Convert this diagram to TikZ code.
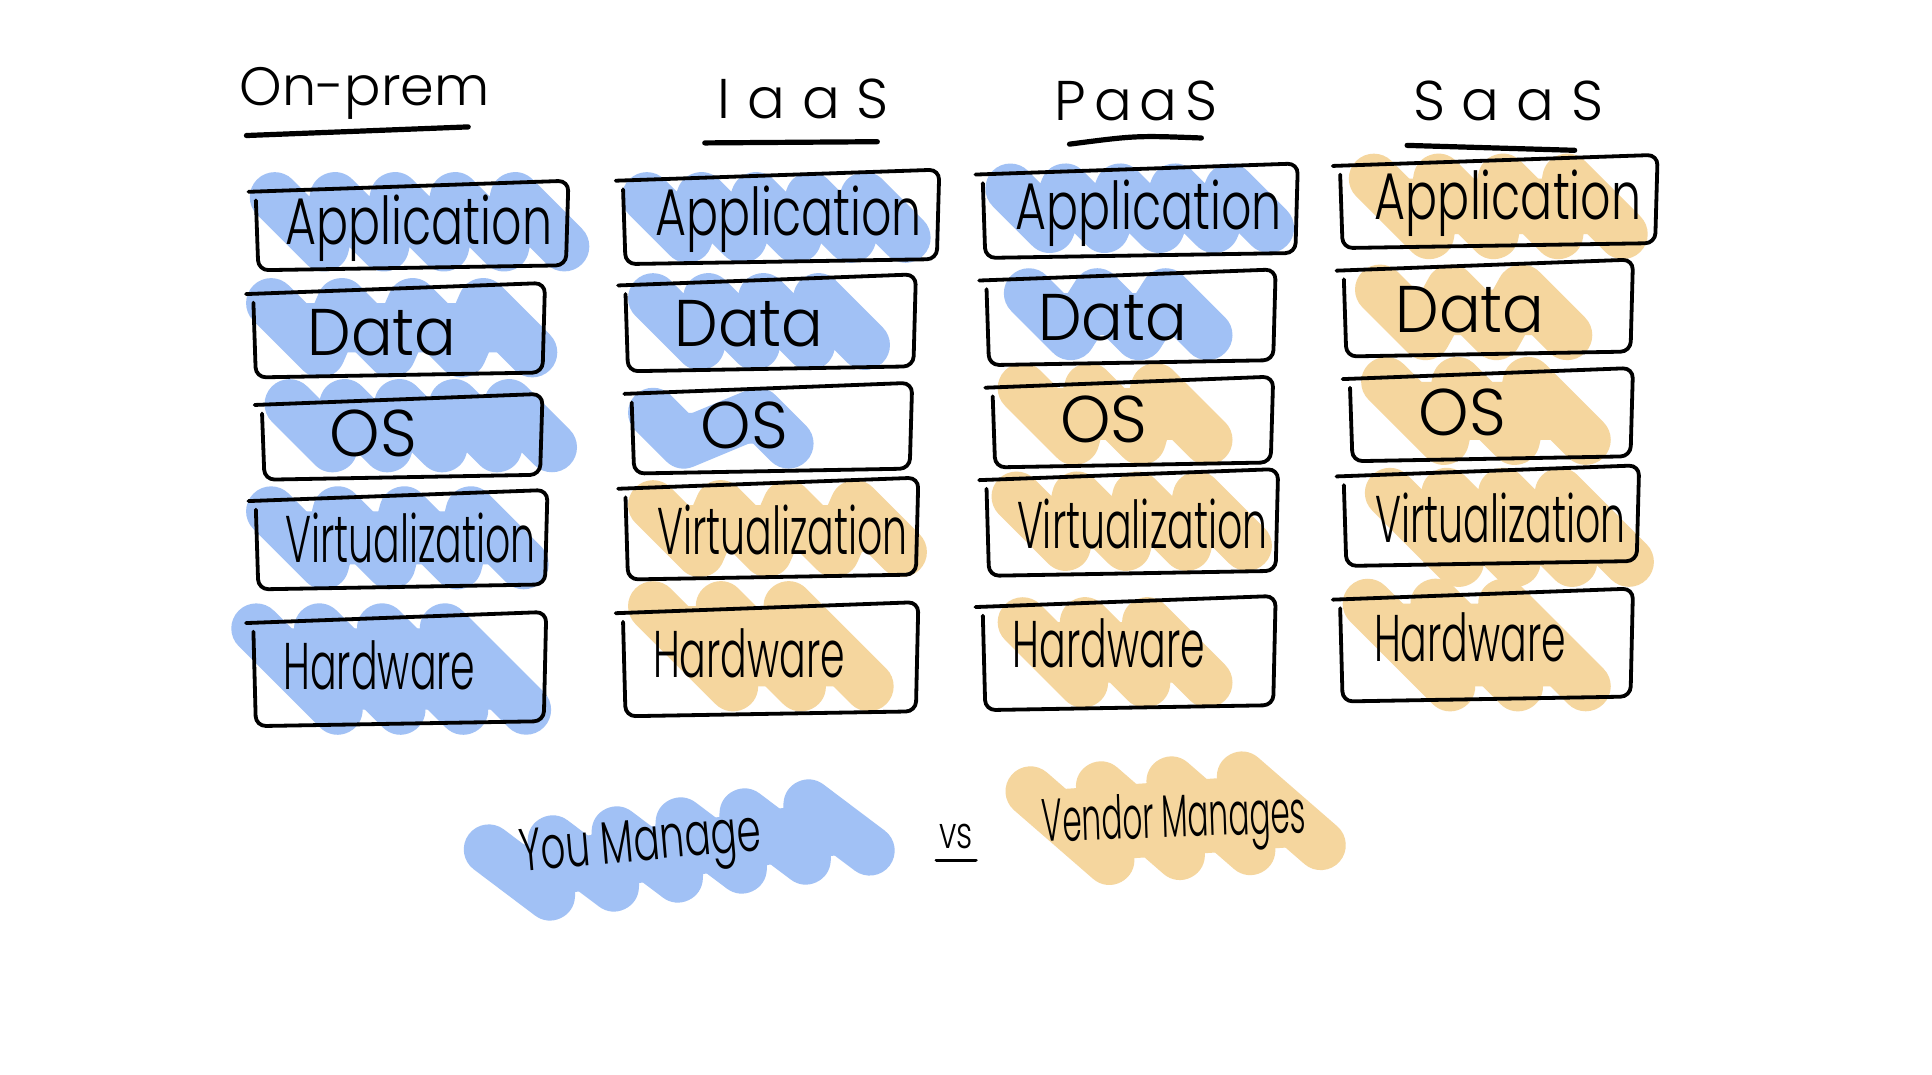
\documentclass[tikz,border=0pt]{standalone}
\usepackage{fontspec}
\usepackage{graphicx}
\usetikzlibrary{calc,fit}
\IfFontExistsTF{Poppins Light}
  {\newfontfamily\handfont[FakeStretch=0.72]{Poppins Light}
   \newfontfamily\titlefont{Poppins Light}
   \newfontfamily\titlespaced[LetterSpace=30]{Poppins Light}
   \newfontfamily\titletight[LetterSpace=14]{Poppins Light}}
  {\newfontfamily\handfont[FakeStretch=0.72]{Poppins}
   \newfontfamily\titlefont{Poppins}
   \newfontfamily\titlespaced[LetterSpace=30]{Poppins}
   \newfontfamily\titletight[LetterSpace=14]{Poppins}}
\definecolor{youblue}{RGB}{161,193,245}
\definecolor{vendorsand}{RGB}{245,214,158}

\tikzset{
  frame/.style={draw=black, line width=1.9pt, rounded corners=5pt, line cap=round, line join=round},
  hl/.style={line width=25pt, line cap=round, line join=round},
  area/.style={inner sep=0pt, draw=none},
  lbl/.style={font=\handfont\fontsize{33}{36}\selectfont, inner sep=0pt, anchor=center},
  legend/.style={font=\handfont\fontsize{30}{34}\selectfont, inner sep=0pt},
  ttl/.style={font=\titlefont\fontsize{27}{32}\selectfont, inner sep=0pt},
  ttlsp/.style={font=\titlespaced\fontsize{28}{32}\selectfont, inner sep=0pt},
  ttltt/.style={font=\titletight\fontsize{28}{32}\selectfont, inner sep=0pt},
  rule/.style={line width=2.6pt, line cap=round},
}

% horizontal squeeze or stretch of a word
\newcommand\sx[2]{\scalebox{#1}[1]{#2}}

% marker scribble: a solid slanted core with a zig-zag of a fat round pen
% giving the scalloped edges
\newcommand\scrib[5]{%
  \pgfmathsetmacro\sxa{#2+20}\pgfmathsetmacro\sya{#3+20}%
  \pgfmathsetmacro\sxb{#4-20}\pgfmathsetmacro\syb{#5-20}%
  \pgfmathsetmacro\sdx{(\syb-\sya)*1.0}%
  \pgfmathtruncatemacro\sn{max(1,(\sxb-\sxa-\sdx)/44)}%
  \pgfmathsetmacro\sstep{(\sxb-\sxa-\sdx)/\sn}%
  \fill[#1] (\sxa,\sya) -- ({\sxb-\sdx},\sya) -- (\sxb,\syb) -- ({\sxa+\sdx},\syb) -- cycle;
  \draw[hl, draw=#1] (\sxa,\sya)
    \foreach \k in {1,...,\sn}{ -- ({\sxa+(\k-1)*\sstep+\sdx},\syb) -- ({\sxa+\k*\sstep},\sya)}
    -- (\sxb,\syb);
}

% one stack layer: hand-drawn frame plus its caption
\newcommand\layer[8]{%
  \node[area, fit={(#2,#3) (#4,#5)}] (#1) {};
  \draw[frame] ($(#1.north west)+(-5,9)$) -- ($(#1.north east)+(0,0)$)
     -- ($(#1.south east)+(-2,0)$) -- ($(#1.south west)+(3,4)$) -- ($(#1.north west)+(1,16)$);
  \node[lbl] (#1-t) at (#6,#7) {#8};
}

\begin{document}
\begin{tikzpicture}[x=0.616pt, y=-0.616pt]
\useasboundingbox[fill=white] (0,0) rectangle (1568,872);

% --- highlights -------------------------------------------------
\scrib{youblue}{203}{140}{478}{220}
\scrib{youblue}{200}{226}{452}{306}
\scrib{youblue}{215}{308}{468}{383}
\scrib{youblue}{200}{395}{445}{478}
\scrib{youblue}{188}{490}{447}{596}

\scrib{youblue}{505}{140}{755}{213}
\scrib{youblue}{510}{222}{722}{300}
\scrib{youblue}{510}{315}{660}{380}
\scrib{vendorsand}{510}{390}{752}{468}
\scrib{vendorsand}{510}{472}{725}{577}

\scrib{youblue}{800}{133}{1050}{205}
\scrib{youblue}{815}{218}{1000}{292}
\scrib{vendorsand}{810}{295}{1000}{377}
\scrib{vendorsand}{805}{383}{1032}{463}
\scrib{vendorsand}{810}{485}{1000}{574}

\scrib{vendorsand}{1095}{125}{1337}{210}
\scrib{vendorsand}{1100}{215}{1292}{292}
\scrib{vendorsand}{1105}{290}{1307}{377}
\scrib{vendorsand}{1108}{380}{1342}{476}
\scrib{vendorsand}{1090}{470}{1307}{577}

\begin{scope}[rotate around={8:(550,688)}]
  \scrib{youblue}{378}{648}{724}{732}
\end{scope}
\begin{scope}[rotate around={4:(955,662)}]
  \scrib{vendorsand}{818}{614}{1090}{714}
\end{scope}

% --- column titles ----------------------------------------------
\node[ttl] (onprem) at (296,76) {On-prem};
\node[ttlsp] (iaas) at (652,80) {IaaS};
\node[ttltt] (paas) at (922,82) {PaaS};
\node[ttlsp] (saas) at (1224,82) {SaaS};
\draw[rule] ($(onprem)+(-96,34)$) -- ($(onprem)+(84,27)$);
\draw[rule] ($(iaas)+(-80,36)$) -- ($(iaas)+(60,35)$);
\draw[rule] ($(paas)+(-54,35)$) .. controls ($(paas)+(0,28)$) .. ($(paas)+(53,30)$);
\draw[rule] ($(saas)+(-82,36)$) -- ($(saas)+(54,40)$);

% --- On-prem ----------------------------------------------------
\layer{op-app}{207}{147}{461}{215}{340}{185}{Application}
\layer{op-data}{205}{230}{442}{302}{310}{270}{\sx{1.3}{Data}}
\layer{op-os}{212}{320}{440}{385}{303}{352}{\sx{1.35}{OS}}
\layer{op-virt}{207}{398}{444}{474}{333}{437}{\sx{0.83}{Virtualization}}
\layer{op-hw}{205}{497}{443}{585}{308}{540}{\sx{0.83}{Hardware}}

% --- IaaS -------------------------------------------------------
\layer{ia-app}{505}{138}{762}{210}{640}{178}{Application}
\layer{ia-data}{507}{223}{743}{297}{608}{263}{\sx{1.3}{Data}}
\layer{ia-os}{512}{311}{740}{380}{604}{345}{\sx{1.35}{OS}}
\layer{ia-virt}{507}{388}{745}{466}{635}{430}{\sx{0.83}{Virtualization}}
\layer{ia-hw}{505}{489}{745}{577}{608}{530}{\sx{0.83}{Hardware}}

% --- PaaS -------------------------------------------------------
\layer{pa-app}{797}{133}{1053}{205}{932}{173}{Application}
\layer{pa-data}{800}{219}{1035}{292}{903}{258}{\sx{1.3}{Data}}
\layer{pa-os}{805}{306}{1033}{375}{896}{340}{\sx{1.35}{OS}}
\layer{pa-virt}{800}{381}{1037}{463}{927}{425}{\sx{0.83}{Virtualization}}
\layer{pa-hw}{797}{484}{1035}{572}{900}{522}{\sx{0.83}{Hardware}}

% --- SaaS -------------------------------------------------------
\layer{sa-app}{1087}{126}{1345}{197}{1224}{165}{Application}
\layer{sa-data}{1090}{211}{1325}{285}{1193}{251}{\sx{1.3}{Data}}
\layer{sa-os}{1095}{299}{1325}{370}{1187}{335}{\sx{1.35}{OS}}
\layer{sa-virt}{1090}{378}{1330}{455}{1218}{420}{\sx{0.83}{Virtualization}}
\layer{sa-hw}{1087}{478}{1325}{565}{1193}{517}{\sx{0.83}{Hardware}}

% --- legend -----------------------------------------------------
\node[legend, rotate=5] (you) at (520,688) {\sx{0.9}{You Manage}};
\node[legend, font=\handfont\fontsize{22}{24}\selectfont] (vs) at (776,679) {vs};
\draw[line width=1.9pt, line cap=round] ($(vs.south west)+(-2,9)$) -- ($(vs.south east)+(2,9)$);
\node[legend, rotate=2] (vendor) at (953,668) {\sx{0.72}{Vendor Manages}};
\end{tikzpicture}
\end{document}
